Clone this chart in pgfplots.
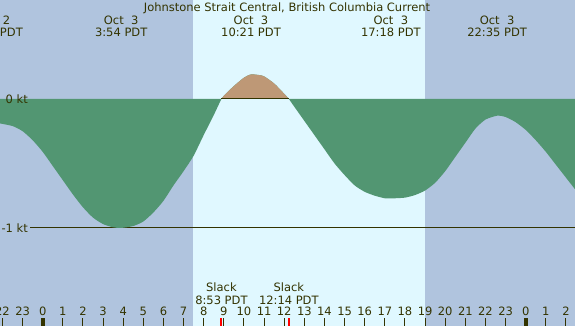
\documentclass[border=0pt]{standalone}
\usepackage{pgfplots}
\pgfplotsset{compat=1.18}
\usepackage{pgfplotstable}
\usepackage{fontspec}
\setmainfont{DejaVu Sans}

\definecolor{night}{RGB}{176,196,222}
\definecolor{day}{RGB}{224,248,255}
\definecolor{ebb}{RGB}{82,150,114}
\definecolor{flood}{RGB}{190,152,118}
\definecolor{txt}{RGB}{51,51,0}

% hours from midnight Oct 3 (PDT), current in knots
\pgfplotstableread{
h      kt
-2.12  -0.19
-1.5   -0.21
-1.0   -0.25
-0.5   -0.32
0.0    -0.41
0.5    -0.52
1.0    -0.63
1.5    -0.74
2.0    -0.84
2.5    -0.92
3.0    -0.97
3.5    -0.995
3.9    -1.00
4.5    -0.985
5.0    -0.95
5.5    -0.88
6.0    -0.79
6.5    -0.67
7.0    -0.56
7.5    -0.44
8.0    -0.28
8.5    -0.125
8.88   0.00
9.0    0.025
9.5    0.10
10.0   0.165
10.35  0.19
10.75  0.185
11.0   0.175
11.5   0.12
12.0   0.04
12.23  0.00
12.5   -0.06
13.0   -0.17
13.5   -0.28
14.0   -0.39
14.5   -0.50
15.0   -0.59
15.5   -0.67
16.0   -0.72
16.5   -0.75
17.0   -0.77
17.3   -0.77
17.5   -0.77
18.0   -0.765
18.5   -0.745
19.0   -0.71
19.5   -0.65
20.0   -0.56
20.5   -0.45
21.0   -0.34
21.5   -0.23
22.0   -0.16
22.58  -0.13
23.0   -0.14
23.5   -0.18
24.0   -0.24
24.5   -0.32
25.0   -0.41
25.5   -0.51
26.0   -0.61
26.45  -0.70
}\current

\begin{document}
\begin{tikzpicture}[font=\fontsize{11.5}{13}\selectfont, every node/.style={inner sep=0pt, text=txt}]
\begin{axis}[
    name=ax,
    set layers,
    scale only axis,
    width=575pt, height=326pt,
    xmin=-2.122, xmax=26.45,
    ymin=-1.760, ymax=0.767,
    axis line style={draw=none},
    axis background/.style={fill=night},
    ytick=\empty,
    xtick={-2,...,26},
    xticklabels={22,23,0,1,2,3,4,5,6,7,8,9,10,11,12,13,14,15,16,17,18,19,20,21,22,23,0,1,2},
    xtick pos=bottom,
    tick align=inside,
    major tick length=8pt,
    tick style={txt, line width=1pt},
    xticklabel style={anchor=base, yshift=10pt, inner sep=0pt, text=txt,
        font=\fontsize{11.5}{13}\selectfont},
    clip=false,
]
% daylight
\addplot[on layer=axis background, fill=day, draw=none] coordinates {(7.47,-1.76)(7.47,0.767)(19.0,0.767)(19.0,-1.76)} -- cycle;

% -1 kt line
\addplot[txt, line width=1pt] coordinates {(-0.631,-1)(26.45,-1)};

% current
\addplot[fill=ebb, draw=none, smooth, tension=0.4] table[x=h, y=kt] {\current} \closedcycle;
\addplot[fill=flood, draw=none, smooth, tension=0.4, restrict x to domain=8.87:12.24] table[x=h, y=kt] {\current} \closedcycle;
\addplot[txt, line width=1pt] coordinates {(8.88,0)(12.23,0)};

% thick midnight ticks, red slack ticks
\addplot[txt, line width=4pt] coordinates {(0,-1.698)(0,-1.76)};
\addplot[txt, line width=4pt] coordinates {(24,-1.698)(24,-1.76)};
\addplot[red, line width=2pt] coordinates {(8.85,-1.698)(8.85,-1.76)};
\addplot[red, line width=2pt] coordinates {(12.23,-1.698)(12.23,-1.76)};

\node[anchor=east] at (axis cs:-0.730,0) {0 kt};
\node[anchor=east] at (axis cs:-0.730,-1) {-1 kt};

\node[anchor=base] at (axis cs:12.139,0.6767) {Johnstone Strait Central, British Columbia Current};

\node[anchor=base] at (axis cs:-2.47,0.5775) {Oct~~2};
\node[anchor=base] at (axis cs:-2.47,0.4845) {21:33 PDT};
\node[anchor=base] at (axis cs:3.9,0.5775) {Oct~~3};
\node[anchor=base] at (axis cs:3.9,0.4845) {3:54 PDT};
\node[anchor=base] at (axis cs:10.35,0.5775) {Oct~~3};
\node[anchor=base] at (axis cs:10.35,0.4845) {10:21 PDT};
\node[anchor=base] at (axis cs:17.3,0.5775) {Oct~~3};
\node[anchor=base] at (axis cs:17.3,0.4845) {17:18 PDT};
\node[anchor=base] at (axis cs:22.58,0.5775) {Oct~~3};
\node[anchor=base] at (axis cs:22.58,0.4845) {22:35 PDT};

\node[anchor=base] at (axis cs:8.88,-1.4938) {Slack};
\node[anchor=base] at (axis cs:8.88,-1.5915) {8:53 PDT};
\node[anchor=base] at (axis cs:12.23,-1.4938) {Slack};
\node[anchor=base] at (axis cs:12.23,-1.5915) {12:14 PDT};
\end{axis}
\pgfresetboundingbox
\useasboundingbox (ax.south west) rectangle (ax.north east);
\end{tikzpicture}
\end{document}
